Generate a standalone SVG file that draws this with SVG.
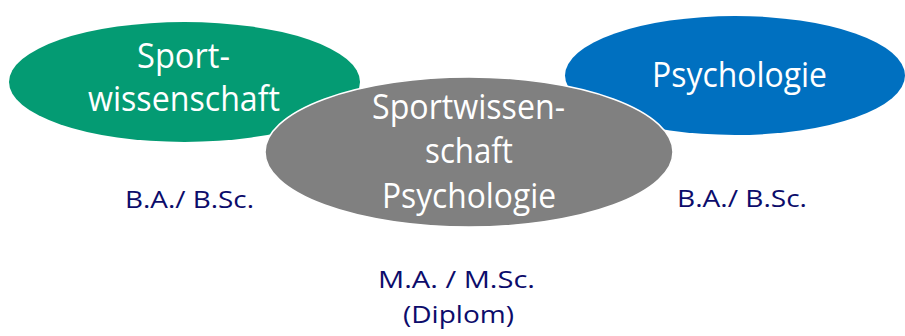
<svg xmlns="http://www.w3.org/2000/svg" width="905" height="336" viewBox="0 0 905 336">
<style>
.w{fill:#ffffff;font-family:"Open Sans","Liberation Sans",sans-serif;font-size:34px;text-anchor:middle}
.l{fill:#0C0C6B;font-family:"Open Sans","Liberation Sans",sans-serif;font-size:24px;text-anchor:middle}
</style>
<rect width="905" height="336" fill="#ffffff"/>
<g id="sportwissenschaft">
<ellipse cx="184.5" cy="82" rx="175.5" ry="60" fill="#049B73"/>
<text class="w" x="183.5" y="68" textLength="93" lengthAdjust="spacingAndGlyphs">Sport-</text>
<text class="w" x="184" y="111" textLength="192" lengthAdjust="spacingAndGlyphs">wissenschaft</text>
</g>
<g id="psychologie">
<ellipse cx="735" cy="75.5" rx="170" ry="59.5" fill="#0070C0"/>
<text class="w" x="739.5" y="87" textLength="175" lengthAdjust="spacingAndGlyphs">Psychologie</text>
</g>
<g id="kombi">
<ellipse cx="469" cy="152" rx="204" ry="75" fill="#808080" stroke="#ffffff" stroke-width="1.5"/>
<text class="w" x="468.5" y="119" textLength="193" lengthAdjust="spacingAndGlyphs">Sportwissen-</text>
<text class="w" x="469" y="163" textLength="88" lengthAdjust="spacingAndGlyphs">schaft</text>
<text class="w" x="469" y="208" textLength="174" lengthAdjust="spacingAndGlyphs">Psychologie</text>
</g>
<g id="labels">
<text class="l" x="189.5" y="208" textLength="129" lengthAdjust="spacingAndGlyphs">B.A./ B.Sc.</text>
<text class="l" x="742" y="207" textLength="130" lengthAdjust="spacingAndGlyphs">B.A./ B.Sc.</text>
<text class="l" x="456.5" y="288" textLength="157" lengthAdjust="spacingAndGlyphs">M.A. / M.Sc.</text>
<text class="l" x="458.5" y="323" textLength="111" lengthAdjust="spacingAndGlyphs">(Diplom)</text>
</g>
<g id="connectors"></g>
</svg>
